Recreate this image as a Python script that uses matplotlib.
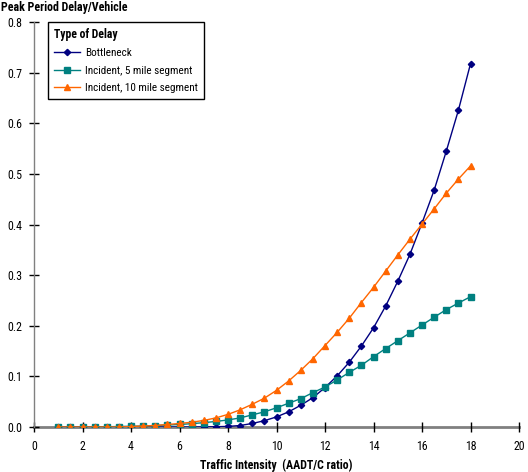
import numpy as np
import matplotlib
matplotlib.use('Agg')
import matplotlib.pyplot as plt
from matplotlib import font_manager

# pick a narrow face if one is installed, the original uses Arial Narrow
names = set(f.name for f in font_manager.fontManager.ttflist)
narrow = [n for n in ['Liberation Sans Narrow', 'Roboto Condensed', 'Open Sans Condensed',
                      'DejaVu Sans Condensed', 'Noto Sans Condensed'] if n in names]
plt.rcParams['font.family'] = narrow + ['Liberation Sans', 'DejaVu Sans']
if not narrow:
    plt.rcParams['font.stretch'] = 'condensed'
fs = 8.6 if narrow else 7.6
lfs = 8 if narrow else 7

intensity = np.arange(1, 18.01, 0.5)

bottleneck = [0, 0, 0, 0, 0, 0, 0, 0, 0, 0, 0, 0, 0.0003, 0.0006, 0.0012,
              0.003, 0.007, 0.0125, 0.020, 0.030, 0.043, 0.058, 0.078, 0.101, 0.128,
              0.160, 0.196, 0.239, 0.288, 0.341, 0.403, 0.468, 0.545, 0.626, 0.718]

incident5 = [0, 0, 0, 0, 0.0005, 0.001, 0.0015, 0.002,
             0.003, 0.004, 0.005, 0.0066, 0.0086, 0.011, 0.014, 0.018, 0.024, 0.030,
             0.038, 0.047, 0.056, 0.068, 0.079, 0.093, 0.108, 0.122, 0.139, 0.155,
             0.1705, 0.186, 0.2015, 0.217, 0.232, 0.245, 0.2575]

incident10 = [0, 0, 0, 0, 0, 0,
              0.001, 0.002, 0.003, 0.005, 0.007, 0.0095, 0.013, 0.018, 0.025, 0.034,
              0.045, 0.057, 0.0725, 0.091, 0.112, 0.135, 0.161, 0.187, 0.215, 0.246,
              0.276, 0.308, 0.340, 0.371, 0.401, 0.431, 0.462, 0.490, 0.516]

fig = plt.figure(figsize=(5.28, 4.72), dpi=100)
ax = fig.add_axes([0.0644, 0.0953, 0.9186, 0.8577])

ax.plot(intensity, bottleneck, color='#000080', marker='D', markersize=3.2, lw=1, label='Bottleneck')
ax.plot(intensity, incident5, color='#008080', marker='s', markersize=4, lw=1, label='Incident, 5 mile segment')
ax.plot(intensity, incident10, color='#FF6600', marker='^', markersize=5, lw=1, label='Incident, 10 mile segment')

ax.set_xlim(0, 20)
ax.set_ylim(0, 0.8)
ax.set_xticks(np.arange(0, 21, 2))
ax.set_yticks(np.arange(0, 0.81, 0.1))
ax.set_yticklabels(['%.1f' % v for v in np.arange(0, 0.81, 0.1)])

for s in ['top', 'right']:
    ax.spines[s].set_visible(False)
ax.spines['left'].set_color('#808080')
ax.spines['bottom'].set_color('#808080')
ax.spines['bottom'].set_linewidth(2)
ax.spines['left'].set_linewidth(1)
ax.spines['bottom'].set_zorder(0)
ax.tick_params(direction='inout', length=7, width=1, colors='black', labelsize=fs)
ax.tick_params(axis='x', pad=6)
ax.tick_params(axis='y', pad=5)

fig.text(0.002, 0.998, 'Peak Period Delay/Vehicle', fontsize=fs, fontweight='bold', va='top', ha='left')
ax.set_xlabel('Traffic Intensity  (AADT/C ratio)', fontsize=fs, fontweight='bold', labelpad=4)

leg = fig.legend(title='Type of Delay', loc='upper left', bbox_to_anchor=(48 / 528, 1 - 22 / 472),
                 borderaxespad=0, fontsize=lfs, title_fontproperties={'weight': 'bold', 'size': lfs + 0.4},
                 fancybox=False, edgecolor='black', framealpha=1, borderpad=0.55,
                 handlelength=2.3, handletextpad=0.45, labelspacing=0.65)
leg._legend_box.align = 'left'
leg.get_frame().set_linewidth(1)

fig.savefig('out.png', dpi=100)
